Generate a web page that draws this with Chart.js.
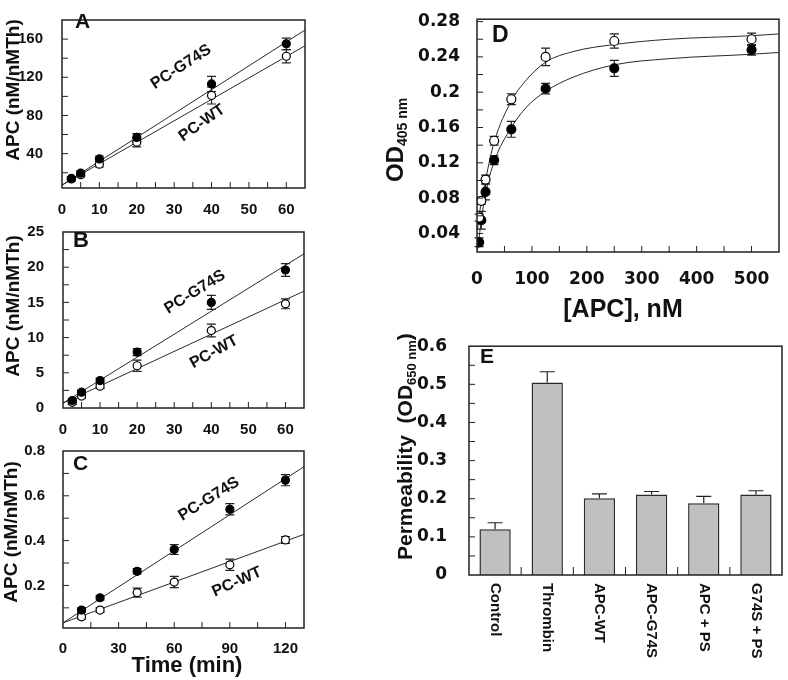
<!DOCTYPE html>
<html>
<head>
<meta charset="utf-8">
<script src="https://cdn.jsdelivr.net/npm/chart.js@4.4.1/dist/chart.umd.min.js"></script>
<style>
  body { margin: 0; background: #fff; }
  #fig { position: relative; width: 788px; height: 680px; }
  canvas { position: absolute; }
</style>
</head>
<body>
<div id="fig">
  <canvas id="cA" width="320" height="222" style="left:0;top:0"></canvas>
  <canvas id="cB" width="320" height="240" style="left:0;top:212px"></canvas>
  <canvas id="cC" width="320" height="248" style="left:0;top:432px"></canvas>
  <canvas id="cD" width="408" height="322" style="left:380px;top:0"></canvas>
  <canvas id="cE" width="408" height="358" style="left:380px;top:322px"></canvas>
</div>
<script>
// panels A and B: time (min)
const timeAB = [2.5, 5, 10, 20, 40, 60]
const aG74S = [14, 19.5, 34.5, 57, 113, 155]
const aG74SErr = [2, 2.5, 3, 4, 8, 6]
const aWT = [13.5, 18, 29, 52, 101, 142]
const aWTErr = [2, 2.5, 3, 5, 9, 7]
const fitXAB = [0, 65]
const aFitG74S = [7, 169.5]
const aFitWT = [7, 153]

const bG74S = [1.05, 2.25, 3.9, 7.95, 15.0, 19.6]
const bG74SErr = [0.3, 0.3, 0.3, 0.5, 1.0, 0.9]
const bWT = [0.8, 1.7, 3.1, 6.0, 11.0, 14.8]
const bWTErr = [0.3, 0.3, 0.3, 0.8, 0.9, 0.7]
const bFitG74S = [0.7, 21.9]
const bFitWT = [0.7, 16.6]

// panel C
const timeC = [10, 20, 40, 60, 90, 120]
const cG74S = [0.09, 0.145, 0.263, 0.36, 0.54, 0.67]
const cG74SErr = [0.01, 0.01, 0.012, 0.022, 0.025, 0.025]
const cWT = [0.06, 0.09, 0.168, 0.215, 0.292, 0.403]
const cWTErr = [0.01, 0.01, 0.02, 0.025, 0.025, 0.015]
const fitXC = [0, 130]
const cFitG74S = [0.033, 0.73]
const cFitWT = [0.033, 0.428]

// panel D: [APC], nM
const apc = [3.9, 7.8, 15.6, 31.25, 62.5, 125, 250, 500]
const dOpen = [0.058, 0.077, 0.101, 0.145, 0.192, 0.240, 0.258, 0.260]
const dOpenErr = [0.004, 0.004, 0.005, 0.005, 0.006, 0.01, 0.008, 0.007]
const dFilled = [0.030, 0.055, 0.087, 0.123, 0.158, 0.204, 0.227, 0.248]
const dFilledErr = [0.005, 0.01, 0.009, 0.005, 0.009, 0.006, 0.009, 0.006]
// fitted curves
const dCurveX = [1, 4, 8, 16, 31, 62.5, 90, 125, 175, 250, 350, 500, 550]
const dCurveOpen = [0.045, 0.06, 0.077, 0.102, 0.143, 0.19, 0.214, 0.234, 0.246, 0.254, 0.260, 0.264, 0.266]
const dCurveFilled = [0.022, 0.036, 0.056, 0.086, 0.121, 0.16, 0.183, 0.201, 0.217, 0.231, 0.238, 0.243, 0.245]

// panel E
const conditions = ['Control', 'Thrombin', 'APC-WT', 'APC-G74S', 'APC + PS', 'G74S + PS']
const perm = [0.12, 0.505, 0.201, 0.211, 0.188, 0.211]
const permErr = [0.017, 0.028, 0.012, 0.008, 0.018, 0.01]

const SANS = '"Liberation Sans", Arial, sans-serif'
const WIDE = '"DejaVu Sans", sans-serif'
const INK = '#111'

const pts = (xs, ys) => xs.map((x, i) => ({x, y: ys[i]}))

function drawErr(chart, after){
    const ctx = chart.ctx
    chart.data.datasets.forEach((ds, i) => {
        if(!ds.err || !!ds.errUp !== after) return
        const meta = chart.getDatasetMeta(i)
        const ys = chart.scales[meta.yAxisID]
        ctx.save()
        ctx.strokeStyle = '#222'
        ctx.lineWidth = 1.2
        meta.data.forEach((el, j) => {
            const d = ds.data[j]
            const v = typeof d === 'object' ? d.y : d
            const top = ys.getPixelForValue(v + ds.err[j])
            const bot = ds.errUp ? el.y : ys.getPixelForValue(v - ds.err[j])
            const c = ds.cap || 4
            ctx.beginPath()
            ctx.moveTo(el.x, top); ctx.lineTo(el.x, bot)
            ctx.moveTo(el.x - c, top); ctx.lineTo(el.x + c, top)
            if(!ds.errUp){ ctx.moveTo(el.x - c, bot); ctx.lineTo(el.x + c, bot) }
            ctx.stroke()
        })
        ctx.restore()
    })
}

function drawText(ctx, tx){
    ctx.save()
    ctx.translate(tx.x, tx.y)
    ctx.rotate((tx.rot || 0) * Math.PI / 180)
    ctx.textBaseline = tx.base || 'middle'
    ctx.textAlign = 'left'
    ctx.fillStyle = INK
    const parts = tx.parts || [{t: tx.t, font: tx.font}]
    let w = 0
    parts.forEach(p => { ctx.font = p.font; w += ctx.measureText(p.t).width })
    let cx = tx.align === 'left' ? 0 : -w / 2
    parts.forEach(p => {
        ctx.font = p.font
        ctx.fillText(p.t, cx, p.dy || 0)
        cx += ctx.measureText(p.t).width
    })
    ctx.restore()
}

const deco = {
    id: 'deco',
    beforeDatasetsDraw(chart){ drawErr(chart, false) },
    afterDatasetsDraw(chart, args, o){
        drawErr(chart, true)
        const {ctx, chartArea: a} = chart
        ctx.save()
        ctx.strokeStyle = '#222'
        ctx.lineWidth = 1
        const len = o.len || 6
        ;(o.ticks || []).forEach(id => {
            const s = chart.scales[id]
            s.ticks.forEach(t => {
                const p = s.getPixelForValue(t.value)
                if(s.isHorizontal()){
                    if(p < a.left + 2 || p > a.right - 2) return
                    ctx.beginPath(); ctx.moveTo(p, a.bottom); ctx.lineTo(p, a.bottom - len); ctx.stroke()
                } else {
                    if(p < a.top + 2 || p > a.bottom - 2) return
                    ctx.beginPath(); ctx.moveTo(a.left, p); ctx.lineTo(a.left + len, p); ctx.stroke()
                }
            })
        })
        if(o.catTicks){
            const s = chart.scales.x
            for(let i = 1; i < chart.data.labels.length; i++){
                const p = (s.getPixelForValue(i - 1) + s.getPixelForValue(i)) / 2
                ctx.beginPath(); ctx.moveTo(p, a.bottom); ctx.lineTo(p, a.bottom - o.catTicks); ctx.stroke()
            }
        }
        if(o.catLabels){
            const s = chart.scales.x
            chart.data.labels.forEach((lab, i) => {
                drawText(ctx, {t: lab, font: o.catLabels.font, x: s.getPixelForValue(i), y: a.bottom + o.catLabels.gap, rot: 90, align: 'left'})
            })
        }
        ctx.lineWidth = 1.5
        ctx.strokeRect(a.left, a.top, a.width, a.height)
        ;(o.texts || []).forEach(tx => drawText(ctx, tx))
        ctx.restore()
    }
}
Chart.register(deco)

const isMajor = (v, m) => Math.abs(v / m - Math.round(v / m)) < 1e-6
const fmt = v => String(parseFloat(v.toFixed(3)))

function axis(min, max, step, major, pad, font, afterFit){
    return {
        type: 'linear', min, max,
        grid: {display: false}, border: {display: false},
        ticks: {
            stepSize: step, includeBounds: false, autoSkip: false, maxRotation: 0,
            padding: pad, color: INK, font,
            callback: v => isMajor(v, major) ? fmt(v) : ''
        },
        afterFit
    }
}

function dots(xs, ys, err, filled, r){
    return {
        data: pts(xs, ys), err, cap: 4.5, showLine: false,
        pointRadius: r, pointHoverRadius: r, pointBorderWidth: 1.2,
        pointBackgroundColor: filled ? '#000' : '#fff', pointBorderColor: '#000'
    }
}

function fit(xs, ys, curved){
    return {
        data: pts(xs, ys), showLine: true, pointRadius: 0, borderColor: '#2a2a2a', borderWidth: 1,
        cubicInterpolationMode: curved ? 'monotone' : 'default', fill: false
    }
}

function panel(id, datasets, x, y, pad, deco, type = 'scatter', labels){
    return new Chart(document.getElementById(id), {
        type,
        data: {labels, datasets},
        options: {
            responsive: false, animation: false, devicePixelRatio: 1,
            events: [],
            layout: {padding: {left: 0, bottom: 0, top: pad[0], right: pad[1]}},
            plugins: {legend: {display: false}, tooltip: {enabled: false}, deco},
            scales: {x, y}
        }
    })
}

const tickFont = {family: SANS, size: 15, weight: 'bold'}
const wideFont = {family: WIDE, size: 17, weight: 'bold'}
const lbl = (t, x, y, rot) => ({t, x, y, rot, font: `bold 16px ${SANS}`})
const letter = (t, x, y, size) => ({t, x, y, font: `bold ${size}px ${SANS}`, align: 'left', base: 'alphabetic'})
const ytitle = (x, y) => ({t: 'APC (nM/nMTh)', x, y, rot: -90, font: `bold 19px ${SANS}`})

// A
panel('cA', [
    dots(timeAB, aG74S, aG74SErr, true, 4),
    dots(timeAB, aWT, aWTErr, false, 4),
    fit(fitXAB, aFitG74S), fit(fitXAB, aFitWT)
],
    axis(0, 65, 5, 10, 5, tickFont, s => { s.height = 34 }),
    axis(4, 180, 20, 40, 11, tickFont, s => { s.width = 62 }),
    [1, 15],
    {ticks: ['x', 'y'], texts: [letter('A', 75, 28, 21), ytitle(14, 90), lbl('PC-G74S', 181, 67, -33), lbl('PC-WT', 202, 123, -35)]})

// B
panel('cB', [
    dots(timeAB, bG74S, bG74SErr, true, 4),
    dots(timeAB, bWT, bWTErr, false, 4),
    fit(fitXAB, bFitG74S), fit(fitXAB, bFitWT)
],
    axis(0, 65, 5, 10, 5, tickFont, s => { s.height = 44 }),
    axis(0, 25, 2.5, 5, 11, tickFont, s => { s.width = 63 }),
    [10, 16],
    {ticks: ['x', 'y'], texts: [letter('B', 73, 35, 22), ytitle(14, 94), lbl('PC-G74S', 195, 80, -32), lbl('PC-WT', 214, 140, -29)]})

// C
panel('cC', [
    dots(timeC, cG74S, cG74SErr, true, 4),
    dots(timeC, cWT, cWTErr, false, 4),
    fit(fitXC, cFitG74S), fit(fitXC, cFitWT)
],
    axis(0, 130, 15, 30, 4, tickFont, s => { s.height = 52 }),
    axis(0.01, 0.8, 0.1, 0.2, 10, tickFont, s => { s.width = 63 }),
    [11, 16],
    {ticks: ['x', 'y'], texts: [
        letter('C', 73, 38, 21), ytitle(12, 100), lbl('PC-G74S', 209, 67, -32), lbl('PC-WT', 237, 150, -24),
        {t: 'Time (min)', x: 187, y: 234, font: `bold 22px ${SANS}`}
    ]})

// D
panel('cD', [
    dots(apc, dOpen, dOpenErr, false, 4.5),
    dots(apc, dFilled, dFilledErr, true, 4.5),
    fit(dCurveX, dCurveOpen, true), fit(dCurveX, dCurveFilled, true)
],
    axis(0, 550, 50, 100, 9, wideFont, s => { s.height = 70 }),
    axis(0.019, 0.2827, 0.02, 0.04, 9, wideFont, s => { s.width = 97 }),
    [14, 1],
    {ticks: ['x', 'y'], texts: [
        letter('D', 112, 42, 23),
        {t: '[APC], nM', x: 243, y: 310, font: `bold 25px ${SANS}`},
        {x: 23, y: 182, rot: -90, align: 'left', base: 'alphabetic', parts: [
            {t: 'OD', font: `bold 24px ${SANS}`},
            {t: '405 nm', font: `bold 14px ${SANS}`, dy: 4}
        ]}
    ]})

// E
panel('cE', [{
    type: 'bar', data: perm, err: permErr, errUp: true, cap: 7.5,
    backgroundColor: '#c0c0c0', borderColor: '#2a2a2a', borderWidth: 1.5,
    barPercentage: 0.6, categoryPercentage: 1
}],
    {type: 'category', grid: {display: false}, border: {display: false}, ticks: {display: false}, afterFit: s => { s.height = 105 }},
    axis(0, 0.6, 0.05, 0.1, 14, wideFont, s => { s.width = 89 }),
    [14, 6],
    {ticks: ['y'], catTicks: 8, catLabels: {font: `bold 15px ${SANS}`, gap: 8}, texts: [
        letter('E', 100, 41, 21),
        {x: 32, y: 238, rot: -90, align: 'left', base: 'alphabetic', parts: [
            {t: 'Permeability  (OD', font: `bold 21px ${SANS}`},
            {t: '650 nm', font: `bold 13px ${SANS}`, dy: 4},
            {t: ')', font: `bold 21px ${SANS}`}
        ]}
    ]},
    'bar', conditions)
</script>
</body>
</html>
